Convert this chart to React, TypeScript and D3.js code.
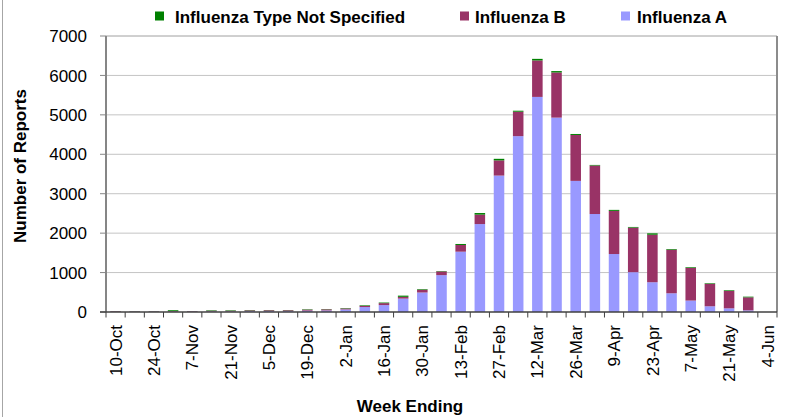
import React from 'react';
import * as d3 from 'd3';

const weeks = [
  '10-Oct', '17-Oct', '24-Oct', '31-Oct', '7-Nov', '14-Nov', '21-Nov', '28-Nov',
  '5-Dec', '12-Dec', '19-Dec', '26-Dec', '2-Jan', '9-Jan', '16-Jan', '23-Jan',
  '30-Jan', '6-Feb', '13-Feb', '20-Feb', '27-Feb', '5-Mar', '12-Mar', '19-Mar',
  '26-Mar', '2-Apr', '9-Apr', '16-Apr', '23-Apr', '30-Apr', '7-May', '14-May',
  '21-May', '28-May', '4-Jun'
];

const fluA = [
  8, 8, 8, 10, 10, 15, 15, 22, 22, 22, 35, 40, 65, 125, 175, 340,
  495, 935, 1530, 2230, 3460, 4460, 5455, 4930, 3325, 2485, 1470, 1010,
  755, 475, 290, 145, 93, 42, 0
];
const fluB = [
  14, 10, 10, 15, 12, 18, 18, 20, 22, 22, 25, 28, 25, 30, 50, 45,
  70, 95, 170, 240, 385, 620, 925, 1145, 1165, 1230, 1095, 1130,
  1205, 1105, 830, 570, 440, 330, 0
];
const notSpecified = [
  3, 4, 4, 20, 3, 12, 12, 8, 6, 6, 10, 7, 10, 15, 15, 30,
  15, 10, 25, 40, 40, 25, 40, 35, 25, 15, 25, 17,
  35, 17, 17, 15, 17, 17, 0
];

const yTicks = [0, 1000, 2000, 3000, 4000, 5000, 6000, 7000];

const keys = ['A', 'B', 'NS'];
const colors: Record<string, string> = { A: '#9999ff', B: '#993366', NS: '#008000' };

const margin = { left: 106, right: 777, top: 36, bottom: 312 };
const font = '"Liberation Sans", Arial, sans-serif';

export default function App() {
  const rows = weeks.map((w, i) => ({ week: w, A: fluA[i], B: fluB[i], NS: notSpecified[i] }));
  const series = d3.stack<any>().keys(keys)(rows);

  const x = d3.scaleBand<string>()
    .domain(weeks)
    .range([margin.left, margin.right])
    .paddingInner(0.45)
    .paddingOuter(0.225);
  const step = (margin.right - margin.left) / weeks.length;
  const y = d3.scaleLinear().domain([0, 7000]).range([margin.bottom, margin.top]);

  const legend = [
    { key: 'NS', label: 'Influenza Type Not Specified', sq: 155, tx: 175 },
    { key: 'B', label: 'Influenza B', sq: 460, tx: 475 },
    { key: 'A', label: 'Influenza A', sq: 621, tx: 637 },
  ];

  return (
    <svg width={797} height={417} style={{ position: 'absolute', left: 0, top: 0, background: '#fff' }}
      fontFamily={font}>
      <line x1={2.5} x2={2.5} y1={0} y2={417} stroke="#a6a6a6" strokeWidth={1} />

      {/* legend */}
      {legend.map(l => (
        <g key={l.key}>
          <rect x={l.sq} y={11.5} width={9} height={9} fill={colors[l.key]} />
          <text x={l.tx} y={23.3} fontSize={17} fontWeight="bold" fill="#000">{l.label}</text>
        </g>
      ))}

      {/* gridlines */}
      {yTicks.slice(1, -1).map(t => (
        <line key={t} x1={margin.left} x2={margin.right} y1={y(t)} y2={y(t)} stroke="#c4c4c4" strokeWidth={1} />
      ))}
      <line x1={margin.left} x2={margin.right} y1={margin.top} y2={margin.top} stroke="#a0a0a0" strokeWidth={1} />
      <line x1={margin.right} x2={margin.right} y1={margin.top} y2={margin.bottom} stroke="#8c8c8c" strokeWidth={2} />

      {/* bars */}
      {series.map(s => (
        <g key={s.key} fill={colors[s.key]}>
          {s.map((d, i) => {
            const h = y(d[0]) - y(d[1]);
            if (h <= 0) return null;
            return <rect key={i} x={x(weeks[i])} y={y(d[1])} width={x.bandwidth()} height={h} />;
          })}
        </g>
      ))}

      {/* y axis */}
      <line x1={margin.left} x2={margin.left} y1={margin.top} y2={margin.bottom} stroke="#868686" strokeWidth={2} />
      {yTicks.map(t => (
        <g key={t}>
          <line x1={100} x2={margin.left} y1={y(t)} y2={y(t)} stroke="#868686" strokeWidth={1} />
          <text x={87} y={y(t)} dy="0.36em" textAnchor="end" fontSize={17} fill="#000">{t}</text>
        </g>
      ))}

      {/* x axis */}
      <line x1={margin.left - 6} x2={margin.right} y1={margin.bottom} y2={margin.bottom} stroke="#404040" strokeWidth={1.5} />
      {d3.range(weeks.length + 1).map(i => (
        <line key={i} x1={margin.left + i * step} x2={margin.left + i * step} y1={margin.bottom} y2={margin.bottom + 5.5}
          stroke="#404040" strokeWidth={1} />
      ))}
      {weeks.map((w, i) => i % 2 === 0 ? (
        <text key={w} transform={`translate(${(x(w) as number) + x.bandwidth() / 2},325) rotate(-90)`}
          dy="0.36em" textAnchor="end" fontSize={17} fill="#000">{w}</text>
      ) : null)}

      {/* titles */}
      <text x={410} y={411.5} textAnchor="middle" fontSize={17} fontWeight="bold">Week Ending</text>
      <text transform="translate(20,166) rotate(-90)" dy="0.36em" textAnchor="middle" fontSize={17} fontWeight="bold">
        Number of Reports
      </text>
    </svg>
  );
}
